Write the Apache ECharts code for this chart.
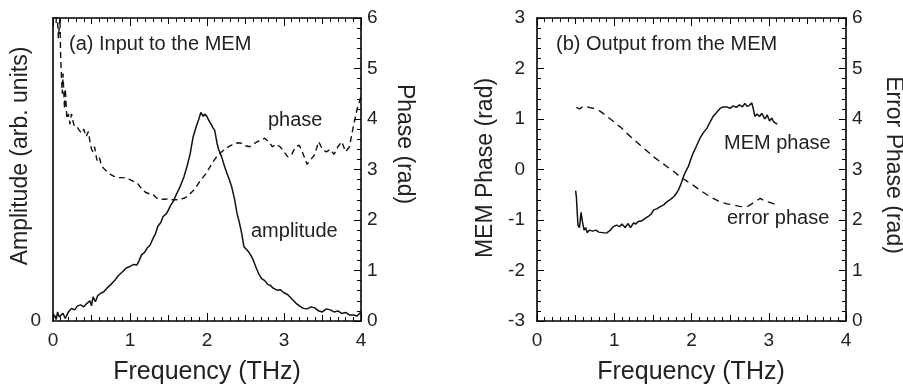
<!DOCTYPE html>
<html><head><meta charset="utf-8">
<script src="https://cdn.jsdelivr.net/npm/echarts@6/dist/echarts.min.js"></script>
<style>html,body{margin:0;padding:0;background:#fff}#c{width:903px;height:386px}</style>
</head><body><div id="c"></div>
<script>
// ---- Panel (a): input to the MEM ----
const ampF = [0.00,0.02,0.04,0.06,0.08,0.10,0.13,0.16,0.20,0.24,0.28,0.32,0.36,0.40,0.44,0.48,0.50,0.52,0.55,0.58,0.62,0.66,0.70,0.75,0.80,0.85,0.90,0.95,1.00,1.05,1.09,1.12,1.15,1.19,1.22,1.26,1.30,1.33,1.36,1.40,1.43,1.47,1.50,1.53,1.56,1.60,1.65,1.70,1.74,1.78,1.82,1.86,1.89,1.92,1.95,1.97,2.00,2.02,2.05,2.08,2.10,2.13,2.15,2.19,2.23,2.26,2.29,2.32,2.36,2.39,2.42,2.45,2.48,2.51,2.54,2.57,2.60,2.64,2.67,2.71,2.75,2.79,2.82,2.86,2.91,2.95,3.00,3.05,3.10,3.15,3.20,3.25,3.30,3.35,3.40,3.45,3.50,3.55,3.60,3.65,3.70,3.75,3.80,3.85,3.90,3.95,4.00];
const ampV = [0.05,0.12,0.03,0.18,0.08,0.10,0.15,0.05,0.18,0.25,0.22,0.30,0.32,0.28,0.35,0.40,0.30,0.48,0.38,0.50,0.55,0.58,0.65,0.72,0.80,0.90,0.97,1.05,1.08,1.12,1.11,1.20,1.31,1.36,1.44,1.50,1.64,1.72,1.87,1.95,2.07,2.12,2.20,2.30,2.36,2.50,2.66,2.85,3.06,3.30,3.65,3.85,3.98,4.13,4.05,4.10,4.05,3.98,3.91,3.82,3.78,3.52,3.40,3.25,3.05,2.92,2.80,2.66,2.40,2.13,1.95,1.74,1.47,1.42,1.37,1.30,1.21,1.05,0.94,0.84,0.80,0.72,0.71,0.65,0.61,0.62,0.56,0.52,0.44,0.36,0.30,0.25,0.24,0.28,0.26,0.20,0.18,0.24,0.22,0.18,0.20,0.15,0.17,0.12,0.12,0.10,0.18];
const phaseF = [0.02,0.04,0.05,0.07,0.09,0.10,0.12,0.13,0.15,0.16,0.18,0.20,0.22,0.24,0.26,0.28,0.31,0.34,0.37,0.40,0.43,0.46,0.48,0.50,0.52,0.54,0.57,0.60,0.63,0.66,0.70,0.75,0.80,0.85,0.90,0.95,1.00,1.05,1.10,1.15,1.20,1.25,1.30,1.35,1.40,1.45,1.50,1.55,1.60,1.65,1.70,1.75,1.80,1.85,1.90,1.95,2.00,2.05,2.10,2.15,2.20,2.25,2.30,2.35,2.40,2.45,2.50,2.55,2.60,2.65,2.70,2.75,2.80,2.85,2.90,2.95,3.00,3.05,3.10,3.15,3.20,3.25,3.30,3.35,3.40,3.45,3.50,3.55,3.60,3.65,3.70,3.75,3.80,3.85,3.90,3.95,4.00];
const phaseV = [6.3,5.9,6.2,5.6,6.0,5.2,4.5,4.9,4.2,4.6,4.0,4.1,3.9,4.1,3.95,3.85,3.85,3.78,3.72,3.80,3.65,3.75,3.55,3.40,3.35,3.45,3.18,3.25,3.08,3.02,2.96,2.90,2.86,2.84,2.84,2.83,2.80,2.76,2.72,2.62,2.55,2.52,2.50,2.43,2.41,2.41,2.42,2.40,2.40,2.41,2.43,2.47,2.55,2.63,2.75,2.85,2.95,3.08,3.20,3.30,3.36,3.42,3.47,3.50,3.53,3.52,3.47,3.45,3.50,3.55,3.58,3.62,3.55,3.45,3.50,3.45,3.35,3.25,3.30,3.45,3.48,3.30,3.10,3.20,3.30,3.55,3.40,3.35,3.40,3.30,3.45,3.55,3.35,3.45,3.85,4.20,4.45];

// ---- Panel (b): output from the MEM ----
const memF = [0.50,0.51,0.53,0.55,0.57,0.59,0.61,0.63,0.65,0.68,0.72,0.76,0.80,0.85,0.90,0.95,0.99,1.03,1.07,1.10,1.14,1.18,1.21,1.25,1.28,1.31,1.35,1.39,1.44,1.48,1.51,1.55,1.59,1.64,1.68,1.72,1.77,1.80,1.83,1.86,1.89,1.92,1.96,1.99,2.02,2.06,2.11,2.15,2.20,2.24,2.28,2.33,2.37,2.41,2.46,2.50,2.54,2.58,2.62,2.66,2.69,2.72,2.75,2.78,2.80,2.82,2.85,2.88,2.91,2.95,2.98,3.01,3.04,3.06,3.08,3.11];
const memV = [-0.42,-0.55,-1.10,-1.15,-0.85,-1.05,-1.20,-1.15,-1.25,-1.20,-1.22,-1.20,-1.24,-1.25,-1.26,-1.20,-1.13,-1.10,-1.13,-1.08,-1.15,-1.07,-1.15,-1.06,-1.08,-1.03,-1.02,-0.98,-0.93,-0.88,-0.80,-0.78,-0.74,-0.70,-0.64,-0.60,-0.54,-0.48,-0.41,-0.30,-0.17,-0.05,0.06,0.20,0.32,0.45,0.62,0.72,0.82,0.94,1.05,1.14,1.21,1.24,1.24,1.21,1.26,1.23,1.28,1.24,1.31,1.25,1.27,1.32,1.20,1.05,1.10,1.05,1.11,1.00,1.08,0.96,1.02,0.95,0.98,0.90];
const errF = [0.51,0.55,0.60,0.64,0.70,0.76,0.82,0.90,0.99,1.08,1.16,1.25,1.33,1.42,1.51,1.60,1.68,1.77,1.85,1.94,2.02,2.11,2.20,2.28,2.37,2.46,2.54,2.62,2.69,2.74,2.78,2.84,2.89,2.94,2.99,3.05,3.10];
const errV = [4.23,4.20,4.25,4.24,4.22,4.20,4.15,4.06,3.95,3.84,3.72,3.60,3.49,3.37,3.25,3.15,3.06,2.96,2.86,2.77,2.69,2.59,2.50,2.43,2.36,2.32,2.30,2.27,2.26,2.28,2.32,2.38,2.43,2.38,2.36,2.33,2.30];

// tick labels
const freqTicks = [0,1,2,3,4];
const phaseTicks = [0,1,2,3,4,5,6];
const memTicks = [-3,-2,-1,0,1,2,3];

const zip = (a,b) => a.map((x,i)=>[x,b[i]]);
const FONT = 'Liberation Sans, Arial, sans-serif';
const TXT = '#222';

function xAx(grid, pos, labels, interval, tickLen, minor, line) {
  return {
    type:'value', gridIndex:grid, position:pos, min:freqTicks[0], max:freqTicks[freqTicks.length-1], interval:interval,
    axisLine:{show:line, onZero:false, lineStyle:{color:'#000', width:1.6}},
    axisTick:{show:true, inside:true, length:tickLen, lineStyle:{color:'#000', width:1}},
    minorTick:{show:minor, splitNumber:10, length:4, lineStyle:{color:'#000', width:1}},
    axisLabel:{show:labels, margin:10, fontSize:19, color:TXT, fontFamily:FONT},
    splitLine:{show:false}
  };
}
function yAx(grid, pos, ticks, showTicks, labelFmt) {
  return {
    type:'value', gridIndex:grid, position:pos, min:ticks[0], max:ticks[ticks.length-1], interval:1,
    axisLine:{show:true, onZero:false, lineStyle:{color:'#000', width:1.6}},
    axisTick:{show:showTicks, inside:true, length:7, lineStyle:{color:'#000', width:1}},
    minorTick:{show:showTicks, splitNumber:5, length:4, lineStyle:{color:'#000', width:1}},
    axisLabel:{show:true, margin:pos==='left'?12:6, fontSize:19, color:TXT, fontFamily:FONT, formatter:labelFmt},
    splitLine:{show:false}
  };
}

const chart = echarts.init(document.getElementById('c'), null, {renderer:'canvas'});
const lineBase = {type:'line', showSymbol:false, symbol:'none', animation:false, clip:true};
const option = {
  animation:false,
  grid:[
    {left:53, top:18, width:308, height:303},
    {left:537, top:18, width:309, height:303}
  ],
  xAxis:[
    xAx(0,'bottom',true,1,8,true,true),
    xAx(0,'top',false,1,8,true,true),
    xAx(0,'bottom',false,0.5,6,false,false),
    xAx(0,'top',false,0.5,6,false,false),
    xAx(1,'bottom',true,1,8,true,true),
    xAx(1,'top',false,1,8,true,true),
    xAx(1,'bottom',false,0.5,6,false,false),
    xAx(1,'top',false,0.5,6,false,false)
  ],
  yAxis:[
    yAx(0,'left',phaseTicks,false,v=>v===0?'0':''),
    yAx(0,'right',phaseTicks,true),
    yAx(1,'left',memTicks,true),
    yAx(1,'right',phaseTicks,true)
  ],
  series:[
    Object.assign({}, lineBase, {name:'amplitude', xAxisIndex:0, yAxisIndex:0, data:zip(ampF,ampV),
      lineStyle:{color:'#111', width:1.5, type:'solid'}}),
    Object.assign({}, lineBase, {name:'phase', xAxisIndex:0, yAxisIndex:1, data:zip(phaseF,phaseV),
      lineStyle:{color:'#111', width:1.4, type:[6,4]}}),
    Object.assign({}, lineBase, {name:'MEM phase', xAxisIndex:4, yAxisIndex:2, data:zip(memF,memV),
      lineStyle:{color:'#111', width:1.5, type:'solid'}}),
    Object.assign({}, lineBase, {name:'error phase', xAxisIndex:4, yAxisIndex:3, data:zip(errF,errV),
      lineStyle:{color:'#111', width:1.4, type:[7,5]}})
  ],
  graphic:[
    {type:'text', x:21, y:156, rotation:Math.PI/2, style:{text:'Amplitude (arb. units)', font:'23px '+FONT, fill:TXT, textAlign:'center', textVerticalAlign:'middle'}},
    {type:'text', x:404, y:144, rotation:-Math.PI/2, style:{text:'Phase (rad)', font:'23px '+FONT, fill:TXT, textAlign:'center', textVerticalAlign:'middle'}},
    {type:'text', x:207, y:372, style:{text:'Frequency (THz)', font:'25px '+FONT, fill:TXT, textAlign:'center', textVerticalAlign:'middle'}},
    {type:'text', x:691, y:372, style:{text:'Frequency (THz)', font:'25px '+FONT, fill:TXT, textAlign:'center', textVerticalAlign:'middle'}},
    {type:'text', x:486, y:168, rotation:Math.PI/2, style:{text:'MEM Phase (rad)', font:'23px '+FONT, fill:TXT, textAlign:'center', textVerticalAlign:'middle'}},
    {type:'text', x:893, y:165, rotation:-Math.PI/2, style:{text:'Error Phase (rad)', font:'23px '+FONT, fill:TXT, textAlign:'center', textVerticalAlign:'middle'}},
    {type:'text', x:69, y:44, style:{text:'(a) Input to the MEM', font:'20px '+FONT, fill:TXT, textAlign:'left', textVerticalAlign:'middle'}},
    {type:'text', x:268, y:120, style:{text:'phase', font:'20px '+FONT, fill:TXT, textAlign:'left', textVerticalAlign:'middle'}},
    {type:'text', x:251, y:231, style:{text:'amplitude', font:'20px '+FONT, fill:TXT, textAlign:'left', textVerticalAlign:'middle'}},
    {type:'text', x:556, y:44, style:{text:'(b) Output from the MEM', font:'20px '+FONT, fill:TXT, textAlign:'left', textVerticalAlign:'middle'}},
    {type:'text', x:724, y:143, style:{text:'MEM phase', font:'20px '+FONT, fill:TXT, textAlign:'left', textVerticalAlign:'middle'}},
    {type:'text', x:727, y:218, style:{text:'error phase', font:'20px '+FONT, fill:TXT, textAlign:'left', textVerticalAlign:'middle'}}
  ]
};
chart.setOption(option);
</script>
</body></html>
